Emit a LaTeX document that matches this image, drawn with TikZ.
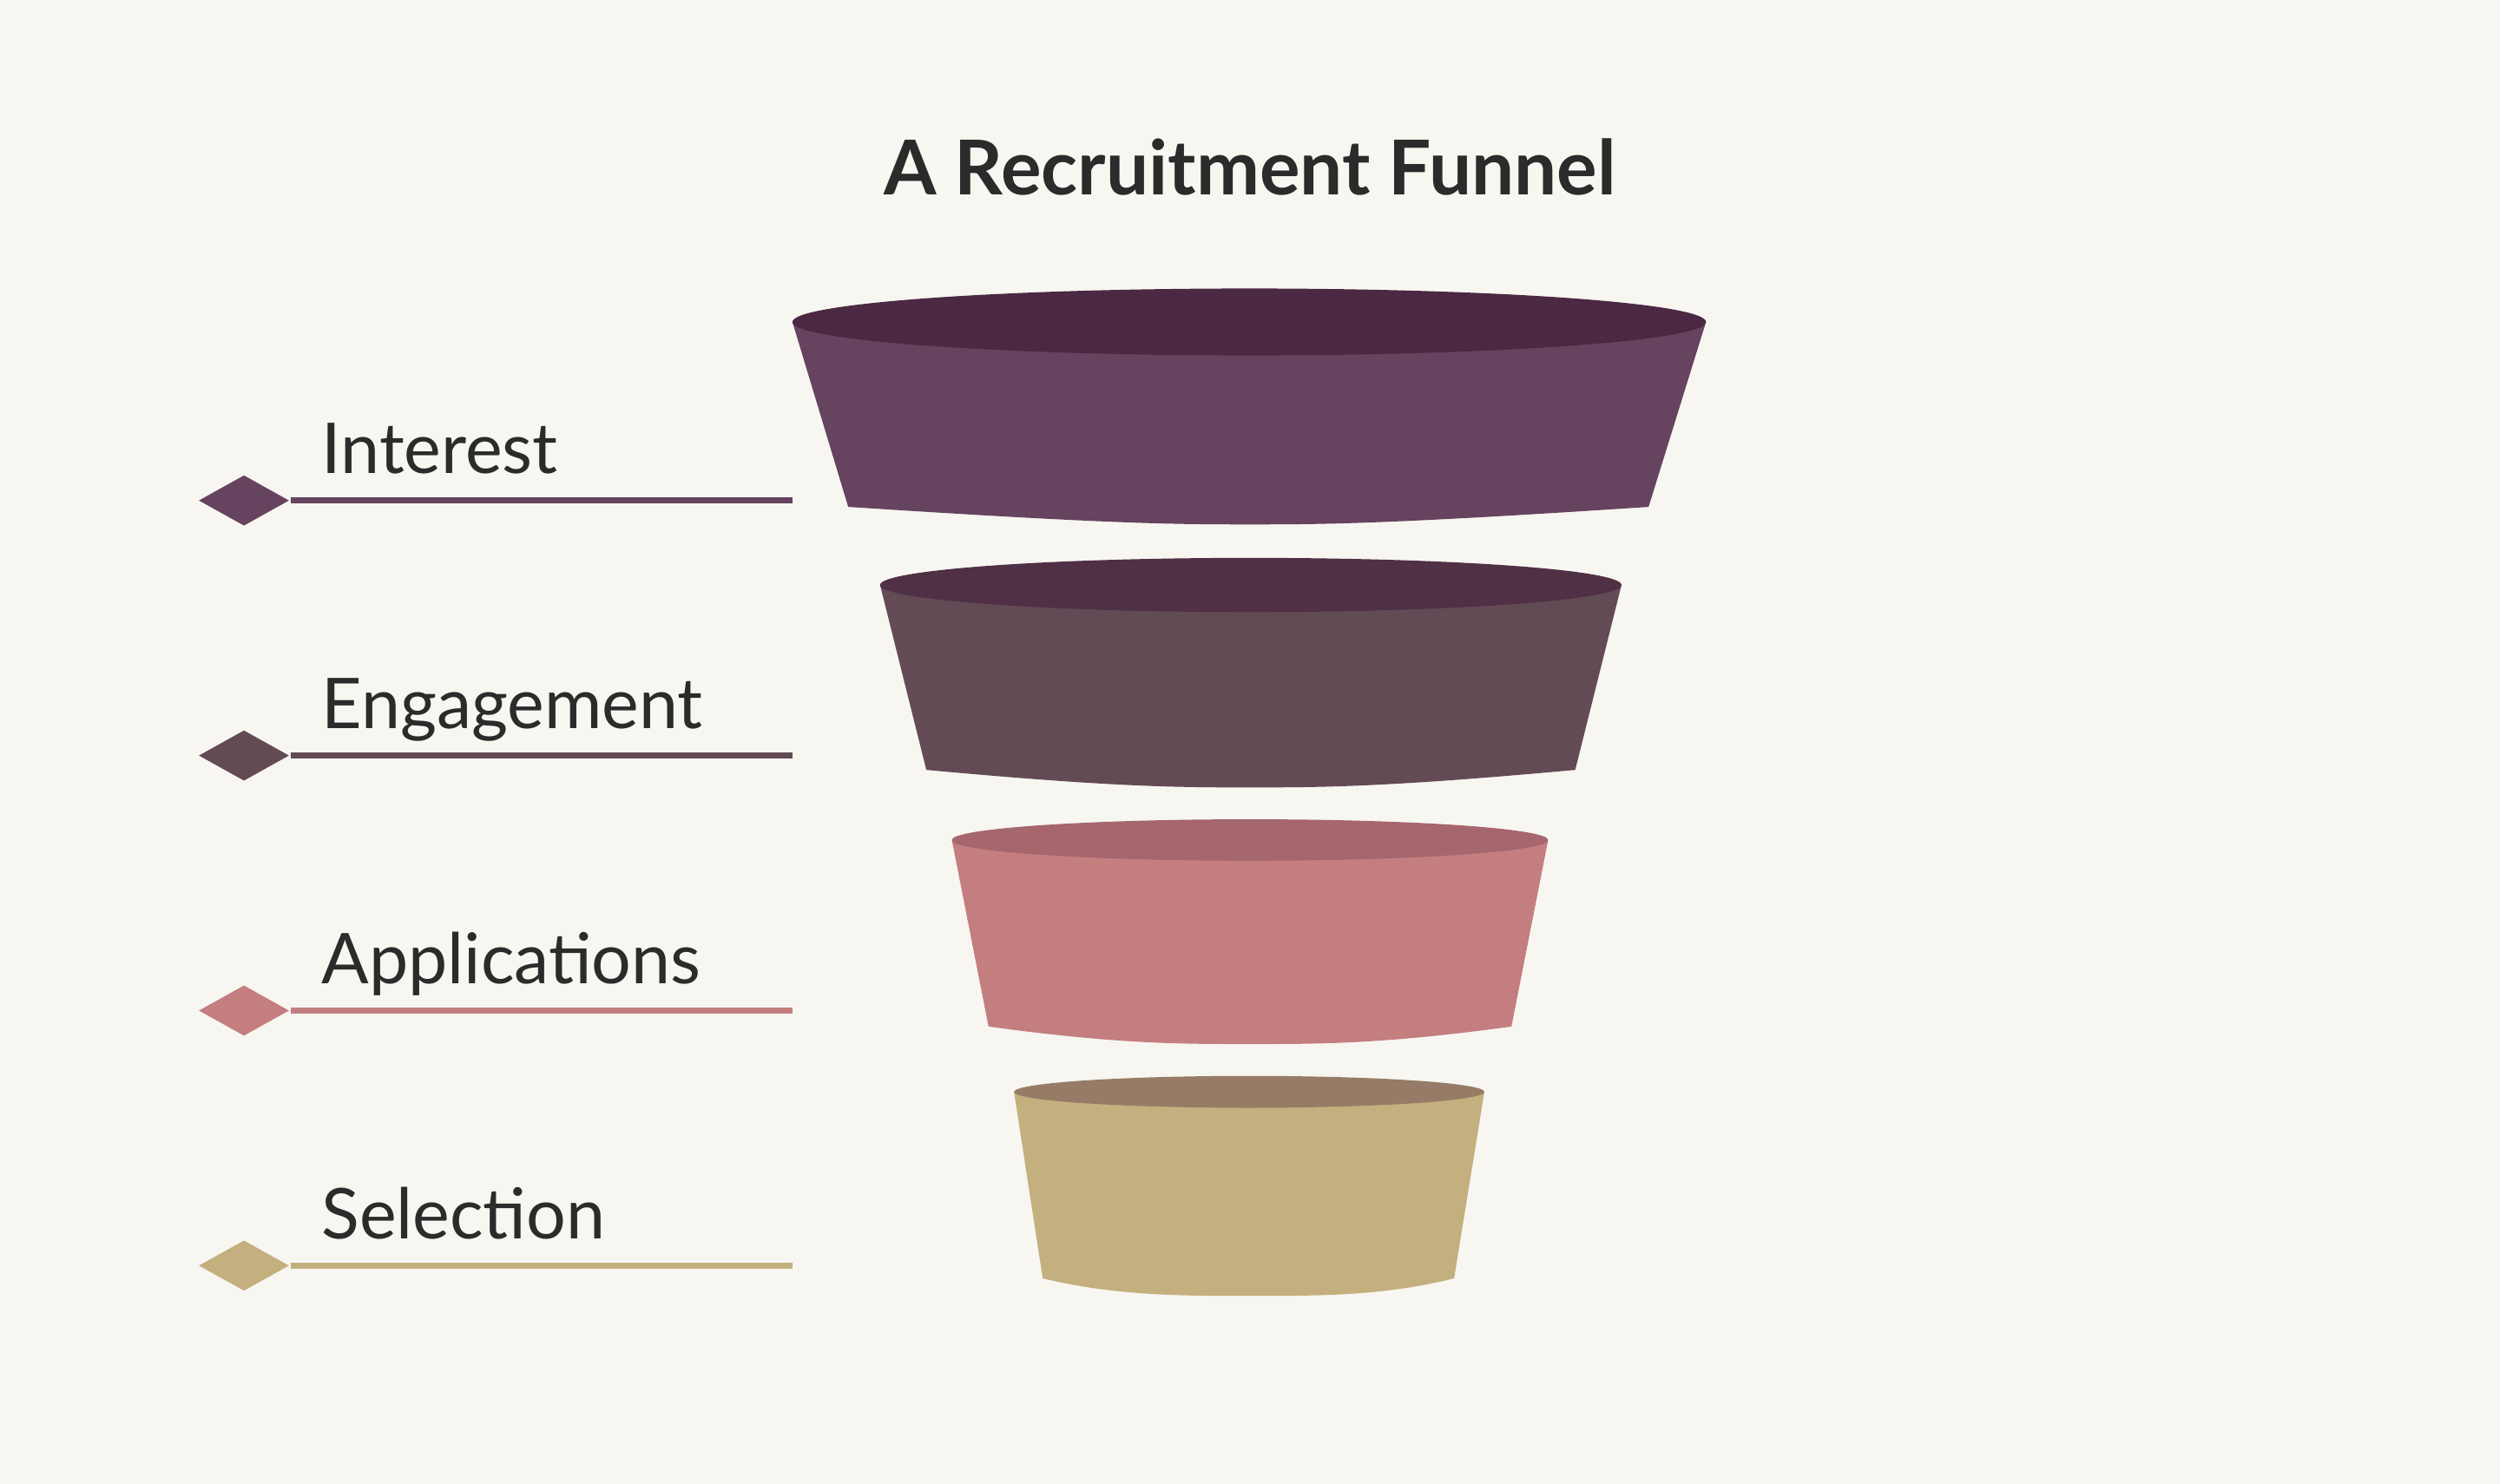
\documentclass[tikz,border=0pt]{standalone}
\usepackage{fontspec}
\setmainfont{Lato}
\usetikzlibrary{shapes.geometric}
\usetikzlibrary{positioning}
\definecolor{bg}{HTML}{F7F6F1}
\definecolor{ink}{HTML}{2B2B2B}
\definecolor{interest_body}{HTML}{66435E}
\definecolor{interest_top}{HTML}{4B2942}
\definecolor{engage_body}{HTML}{634B55}
\definecolor{engage_top}{HTML}{4F3045}
\definecolor{apply_body}{HTML}{C47E7F}
\definecolor{apply_top}{HTML}{A5666E}
\definecolor{select_body}{HTML}{C4B07E}
\definecolor{select_top}{HTML}{967C66}
\tikzstyle{marker} = [
    diamond,
    inner sep=0pt,
    minimum width=0.57cm,
    minimum height=0.32cm
]
\tikzstyle{stage_label} = [
    anchor=base west,
    inner sep=0pt,
    text=ink,
    font=\fontsize{12.5pt}{15pt}\selectfont
]
\begin{document}
\begin{tikzpicture}[x=0.01cm, y=-0.01cm]
\fill [bg] (0,0) rectangle (1568,931);
\useasboundingbox (0,0) rectangle (1568,931);
\node [text=ink, font=\fontsize{13.5pt}{16pt}\selectfont\bfseries] (title) at (784,105) {A Recruitment Funnel};
% funnel stages: top left x, top right x, top y, ellipse ry, bottom left x, bottom right x, bottom y
\foreach \tl/\tr/\ty/\ry/\bl/\br/\by/\cb/\ct/\txt/\ly/\n in {
    497/1070/202/21/532/1034/318/interest_body/interest_top/Interest/314/a,
    552/1017/367/17/581/988/483/engage_body/engage_top/Engagement/474/b,
    597/971/527/13/620/948/644/apply_body/apply_top/Applications/634/c,
    636/931/685/10/654/912/802/select_body/select_top/Selection/794/d}
{
    \fill [\cb] (\tl,\ty) -- (\bl,\by)
        .. controls (700,\by+11) and (740,\by+11) .. (784,\by+11)
        .. controls (828,\by+11) and (868,\by+11) .. (\br,\by)
        -- (\tr,\ty) -- cycle;
    \fill [\ct] ({(\tl+\tr)/2},\ty) ellipse ({(\tr-\tl)/2} and \ry);
    \node [marker, fill=\cb] (mark_\n) at (153,\ly) {};
    \coordinate (end_\n) at (497,\ly);
    \draw [\cb, line width=1.1pt] (mark_\n.east) -- (end_\n);
    \node [stage_label] (label_\n) at (201,\ly-17) {\txt};
}
\end{tikzpicture}
\end{document}
